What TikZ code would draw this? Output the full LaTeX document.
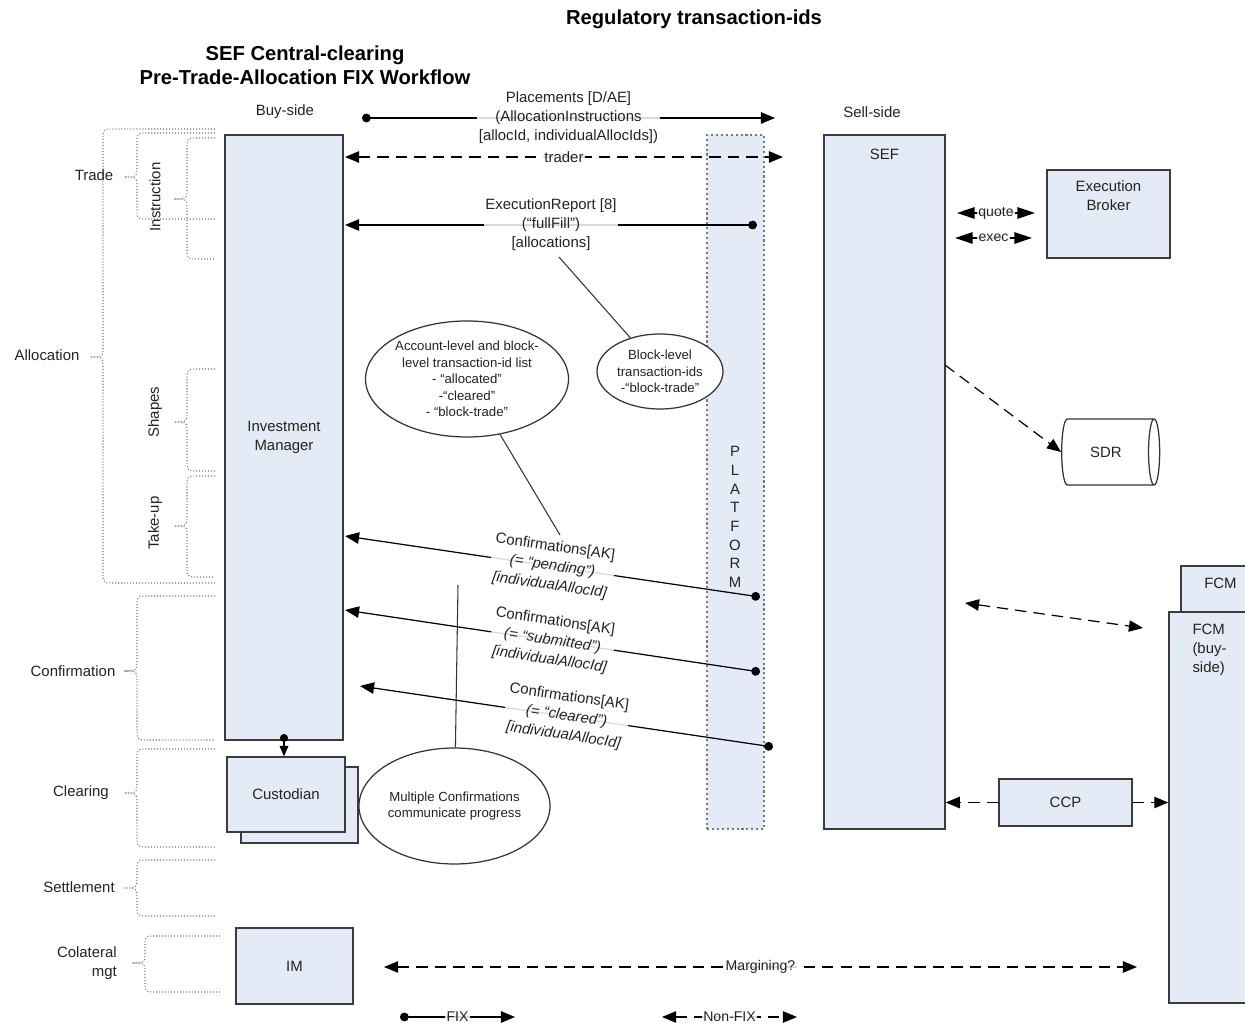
\documentclass[tikz,border=0pt]{standalone}
\usepackage{fontspec}
\setmainfont{Liberation Sans}
\usetikzlibrary{arrows.meta,shapes.geometric}

\definecolor{boxfill}{RGB}{228,234,246}
\definecolor{boxline}{RGB}{60,60,60}
\definecolor{txt}{RGB}{35,35,35}
\definecolor{dotline}{RGB}{120,120,120}

\tikzset{
  box/.style={draw=boxline, fill=boxfill, line width=0.8pt, inner sep=0pt},
  bubble/.style={ellipse, draw=black!80, line width=0.7pt, fill=white, inner sep=0pt,
    align=center, text=txt, font=\fontsize{7.5}{9.4}\selectfont},
  lbl/.style={font=\fontsize{8.5}{10.8}\selectfont, text=txt},
  onlbl/.style={lbl, fill=white, fill opacity=0.85, text opacity=1, inner sep=1pt, align=center},
  conflbl/.style={onlbl, sloped, font=\fontsize{8.5}{11}\selectfont},
  fix/.style={line width=0.7pt, {Circle[length=5pt]}-{Triangle[length=8pt,width=6.5pt]}},
  nonfix/.style={line width=0.7pt, dash pattern=on 6.5pt off 4pt,
    {Triangle[length=8pt,width=6.5pt]}-{Triangle[length=8pt,width=6.5pt]}},
  bignonfix/.style={nonfix, {Triangle[length=10pt,width=6.5pt]}-{Triangle[length=10pt,width=6.5pt]}},
  dasharrow/.style={line width=0.7pt, dash pattern=on 6.5pt off 4pt, -{Triangle[length=8pt,width=6.5pt]}},
  bracel/.style={draw=dotline, line width=0.6pt, dash pattern=on 0.6pt off 1.1pt},
}

% phase brace: end x, spine x, top y, tip y, bottom y
\newcommand{\phasebrace}[5]{%
  \draw[bracel] (#1,#3) -- (#2+12,#3) .. controls (#2,#3) .. (#2,#3+12)
    -- (#2,#4-12) .. controls (#2,#4) .. (#2-13,#4)
    .. controls (#2,#4) .. (#2,#4+12)
    -- (#2,#5-12) .. controls (#2,#5) .. (#2+12,#5) -- (#1,#5);}

\begin{document}
\begin{tikzpicture}[x=0.02cm, y=-0.02cm]
      \useasboundingbox (0,0) rectangle (1245,1026);
      \clip (0,0) rectangle (1245,1026);

      % titles
      \node[font=\fontsize{11.5}{13.7}\selectfont\bfseries] (regtitle) at (694,19) {Regulatory transaction-ids};
      \node[font=\fontsize{11.5}{13.7}\selectfont\bfseries, align=center] (title) at (305,65)
        {SEF Central-clearing\\Pre-Trade-Allocation FIX Workflow};
      \node[lbl] (buyside) at (285,112) {Buy-side};
      \node[lbl] (sellside) at (872,112) {Sell-side};

      % phases
      \phasebrace{215}{103}{129}{357}{583}
      \phasebrace{215}{137}{133}{177}{219}
      \phasebrace{215}{187}{138}{199}{259}
      \phasebrace{215}{187}{369}{422}{471}
      \phasebrace{215}{187}{476}{526}{577}
      \phasebrace{215}{137}{596}{671}{740}
      \phasebrace{215}{137}{749}{793}{847}
      \phasebrace{215}{137}{860}{888}{916}
      \phasebrace{220}{145}{936}{963}{992}
      \node[lbl] (allocation) at (47,355) {Allocation};
      \node[lbl] (trade) at (94,175) {Trade};
      \node[lbl, rotate=90] (instruction) at (155,197) {Instruction};
      \node[lbl, rotate=90] (shapes) at (155,412) {Shapes};
      \node[lbl, rotate=90] (takeup) at (155,523) {Take-up};
      \node[lbl] (confirmation) at (73,671) {Confirmation};
      \node[lbl] (clearing) at (81,793) {Clearing};
      \node[lbl] (settlement) at (79,887) {Settlement};
      \node[lbl, align=right, anchor=east] (colmgt) at (123,963) {Colateral\\mgt};

      % parties
      \node[box, lbl, align=center, minimum width=118*0.02cm, minimum height=605*0.02cm] (im) at (284,437.5)
        {Investment\\Manager};
      \node[box, minimum width=117*0.02cm, minimum height=76*0.02cm] (custback) at (299.5,805) {};
      \node[box, lbl, minimum width=118*0.02cm, minimum height=75*0.02cm] (cust) at (286,794.5) {Custodian};
      \node[box, lbl, minimum width=117*0.02cm, minimum height=76*0.02cm] (imbox) at (294.5,966) {IM};
      \node[draw=dotline, fill=boxfill, line width=0.6pt, dash pattern=on 1.2pt off 1.6pt,
        minimum width=57*0.02cm, minimum height=694*0.02cm] (plt) at (735.5,482) {};
      \node[lbl, align=center, font=\fontsize{8.5}{10.6}\selectfont] (plttext) at (735,517)
        {P\\L\\A\\T\\F\\O\\R\\M};
      \node[box, minimum width=121*0.02cm, minimum height=694*0.02cm,
        label={[lbl, anchor=north, yshift=-5pt]north:SEF}] (sef) at (884.5,482) {};
      \node[box, minimum width=123*0.02cm, minimum height=88*0.02cm,
        label={[lbl, align=center, anchor=north, yshift=-3pt]north:Execution\\Broker}] (broker) at (1108.5,214) {};
      \node[cylinder, draw=black!80, line width=0.7pt, aspect=0.5, lbl,
        minimum width=66*0.02cm, minimum height=98*0.02cm] (sdr) at (1106,452) {SDR};
      \node[box, lbl, minimum width=133*0.02cm, minimum height=47*0.02cm] (ccp) at (1065.5,802.5) {CCP};
      \node[box, minimum width=79*0.02cm, minimum height=80*0.02cm,
        label={[lbl, anchor=north, yshift=-4pt]north:FCM}] (fcmsell) at (1220.5,606) {};
      \node[box, minimum width=91*0.02cm, minimum height=391*0.02cm,
        label={[lbl, align=left, anchor=north west, xshift=18*0.02cm, yshift=-4pt]north west:FCM\\(buy-\\side)}] (fcmbuy) at (1214.5,807.5) {};

      % notes
      \node[bubble, minimum width=192*0.02cm, minimum height=116*0.02cm] (acctids) at (467,379)
        {Account-level and block-\\level transaction-id list\\- “allocated”\\-“cleared”\\- “block-trade”};
      \node[bubble, minimum width=126*0.02cm, minimum height=75*0.02cm] (blockids) at (660,371.5)
        {Block-level\\transaction-ids\\-“block-trade”};
      \node[bubble, minimum width=191*0.02cm, minimum height=116*0.02cm] (progress) at (454.5,806)
        {Multiple Confirmations\\communicate progress};

      % message ends
      \coordinate (plcs) at (362,118);
      \coordinate (plce) at (775,118);
      \coordinate (trds) at (345,157);
      \coordinate (trde) at (783,157);
      \coordinate (exrs) at (757,225);
      \coordinate (exre) at (345,225);
      \coordinate (cf1s) at (760,597);
      \coordinate (cf1e) at (345,536);
      \coordinate (cf2s) at (760,672);
      \coordinate (cf2e) at (345,610);
      \coordinate (cf3s) at (773,747);
      \coordinate (cf3e) at (360,686);
      \coordinate (imdot) at (284,734);
      \coordinate (quotes) at (957,213);
      \coordinate (quotee) at (1035,213);
      \coordinate (execs) at (955,238);
      \coordinate (exece) at (1032,238);
      \coordinate (sdrsrc) at (945,365);
      \coordinate (fcms) at (965,603);
      \coordinate (fcme) at (1143,628);
      \coordinate (mrgs) at (384,967);
      \coordinate (mrge) at (1137,967);
      \coordinate (acctend) at (560,535);
      \coordinate (blockend) at (559,257);
      \coordinate (progend) at (458,585);
      \coordinate (fixs) at (400,1017);
      \coordinate (fixe) at (515,1017);
      \coordinate (nfxs) at (662,1017);
      \coordinate (nfxe) at (797,1017);

      % messages
      \draw[fix] (plcs) -- node[onlbl] {Placements [D/AE]\\(AllocationInstructions\\{}[allocId, individualAllocIds])} (plce);
      \draw[nonfix] (trds) -- node[onlbl] {trader} (trde);
      \draw[fix] (exrs) -- node[onlbl] {ExecutionReport [8]\\(“fullFill”)\\{}[allocations]} (exre);
      \draw[fix] (cf1s) -- node[conflbl]
        {Confirmations[AK]\\\textit{(= “pending”)}\\\textit{[individualAllocId]}} (cf1e);
      \draw[fix] (cf2s) -- node[conflbl]
        {Confirmations[AK]\\\textit{(= “submitted”)}\\\textit{[individualAllocId]}} (cf2e);
      \draw[fix] (cf3s) -- node[conflbl]
        {Confirmations[AK]\\\textit{(= “cleared”)}\\\textit{[individualAllocId]}} (cf3e);
      \draw[fix, {Circle[length=4.5pt]}-{Triangle[length=6pt,width=5pt]}] (imdot) -- (imdot |- cust.north);

      \draw[bignonfix] (quotes) -- node[onlbl, font=\fontsize{8}{9}\selectfont] {quote} (quotee);
      \draw[bignonfix] (execs) -- node[onlbl, font=\fontsize{8}{9}\selectfont] {exec} (exece);
      \draw[dasharrow] (sdrsrc) -- (sdr.west);
      \draw[nonfix] (fcms) -- (fcme);
      \draw[dasharrow] (ccp.west) -- (sef.east |- ccp.west);
      \draw[dasharrow] (ccp.east) -- (fcmbuy.west |- ccp.east);
      \draw[nonfix] (mrgs) -- node[onlbl, font=\fontsize{8}{9}\selectfont] {Margining?} (mrge);

      % note pointers
      \draw[line width=0.6pt, black!80] (acctids) -- (acctend);
      \draw[line width=0.6pt, black!80] (blockids) -- (blockend);
      \draw[line width=0.6pt, black!80] (progress) -- (progend);

      % legend
      \draw[fix] (fixs) -- node[onlbl, font=\fontsize{8}{9}\selectfont] {FIX} (fixe);
      \draw[nonfix] (nfxs) -- node[onlbl, font=\fontsize{8}{9}\selectfont] {Non-FIX} (nfxe);
    \end{tikzpicture}
\end{document}
